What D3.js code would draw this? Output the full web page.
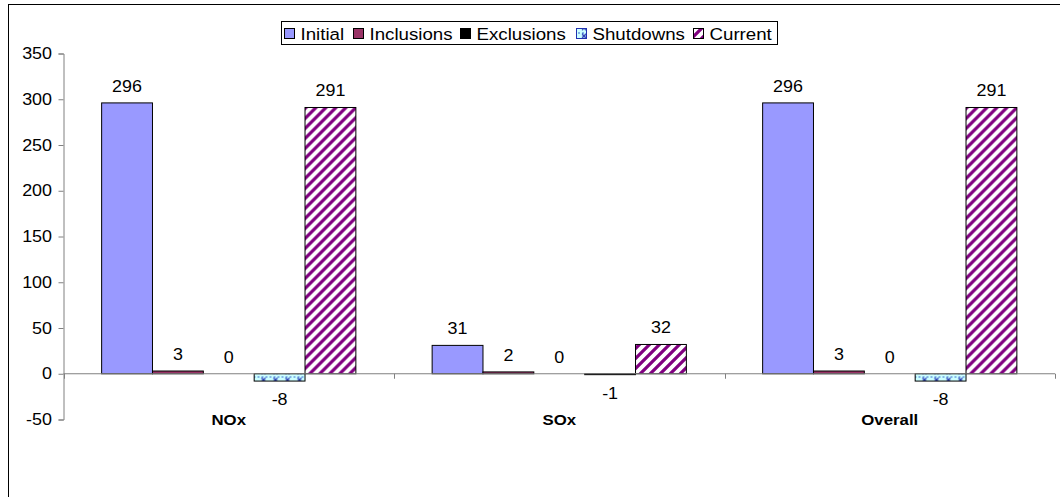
<!DOCTYPE html>
<html>
<head>
<meta charset="utf-8">
<script src="https://cdn.jsdelivr.net/npm/d3@7"></script>
<style>
  html, body { margin: 0; padding: 0; background: #fff; }
  svg { display: block; }
  text { font-family: "Liberation Sans", Arial, sans-serif; fill: #000; }
</style>
</head>
<body>
<svg id="chart" width="1060" height="497"></svg>
<script>
// Emission inventory changes by pollutant
const categories = ["NOx", "SOx", "Overall"];
const seriesNames = ["Initial", "Inclusions", "Exclusions", "Shutdowns", "Current"];
const initial    = [296, 31, 296];
const inclusions = [3, 2, 3];
const exclusions = [0, 0, 0];
const shutdowns  = [-8, -1, -8];
const current    = [291, 32, 291];
const yTicks = [-50, 0, 50, 100, 150, 200, 250, 300, 350];

const seriesValues = [initial, inclusions, exclusions, shutdowns, current];
const fills = ["#9999ff", "#993366", "#000000", "url(#pat-shut)", "url(#pat-cur)"];

const svg = d3.select("#chart");
const SX = 1.12; // horizontal glyph stretch

function label(g, x, y, s, anchor, size, bold, sx) {
  return g.append("text")
    .attr("transform", `translate(${x},${y}) scale(${sx || SX},1)`)
    .attr("text-anchor", anchor)
    .style("font-size", size + "px")
    .style("font-weight", bold ? "bold" : "normal")
    .text(s);
}

// patterns
const defs = svg.append("defs");
const ps = defs.append("pattern").attr("id", "pat-shut")
  .attr("patternUnits", "userSpaceOnUse").attr("width", 12).attr("height", 8)
  .attr("x", 2).attr("y", 0.5);
ps.append("rect").attr("width", 12).attr("height", 8).attr("fill", "#ccffff");
ps.append("path").attr("d", "M4,1.5 L8,5.5 M8,1.5 L4,5.5")
  .attr("stroke", "#2030b0").attr("stroke-width", 1.2).attr("fill", "none");
ps.append("path").attr("d", "M0,0.5 L12,0.5").attr("stroke", "#3b6fd0")
  .attr("stroke-width", 1).attr("stroke-dasharray", "2,2");

const pc = defs.append("pattern").attr("id", "pat-cur")
  .attr("patternUnits", "userSpaceOnUse").attr("width", 10).attr("height", 10);
pc.append("rect").attr("width", 10).attr("height", 10).attr("fill", "#fff");
pc.append("path").attr("d", "M-2.5,2.5 L2.5,-2.5 M0,10 L10,0 M7.5,12.5 L12.5,7.5")
  .attr("stroke", "#800080").attr("stroke-width", 3.2).attr("fill", "none");

// outer frame
svg.append("rect").attr("x", 8.5).attr("y", 4.5).attr("width", 1100).attr("height", 600)
  .attr("fill", "none").attr("stroke", "#000").attr("stroke-width", 1);

// scales
const y = d3.scaleLinear().domain([-50, 350]).range([419.5, 53.5]);
const x0 = d3.scaleBand().domain(categories).range([63.5, 1055]).paddingInner(0).paddingOuter(0);
const x1 = d3.scaleBand().domain(seriesNames).range([0, x0.bandwidth()])
  .paddingInner(0).paddingOuter(0.75);

const axisColor = "#808080";

// y axis
const yAxis = svg.append("g").attr("transform", "translate(63.5,0)")
  .call(d3.axisLeft(y).tickValues(yTicks).tickSize(5).tickPadding(6).tickFormat(d3.format("d")));
yAxis.select(".domain").attr("stroke", axisColor);
yAxis.selectAll(".tick line").attr("stroke", axisColor);
yAxis.selectAll(".tick text").remove();
yTicks.forEach(v => label(svg, 52, y(v) + 5.5, String(v), "end", 16, false));

// bars
const groups = svg.append("g").selectAll("g").data(categories).join("g")
  .attr("transform", d => `translate(${x0(d)},0)`);

seriesNames.forEach((name, si) => {
  groups.append("rect")
    .attr("x", x1(name))
    .attr("y", (d, ci) => Math.min(y(seriesValues[si][ci]), y(0)))
    .attr("width", x1.bandwidth())
    .attr("height", (d, ci) => Math.abs(y(seriesValues[si][ci]) - y(0)))
    .attr("fill", fills[si])
    .attr("stroke", "#000").attr("stroke-width", 1);
});

// x axis at zero
const xAxis = svg.append("g").attr("transform", `translate(0,${y(0)})`);
xAxis.append("line").attr("x1", 63.5).attr("x2", 1055)
  .attr("stroke", axisColor);
const bounds = categories.map(c => x0(c)).concat([x0(categories[categories.length - 1]) + x0.bandwidth()]);
xAxis.selectAll("line.tk").data(bounds).join("line").attr("class", "tk")
  .attr("x1", d => Math.round(d) + 0.5).attr("x2", d => Math.round(d) + 0.5)
  .attr("y1", 0).attr("y2", 5).attr("stroke", axisColor);

// value labels and category names
categories.forEach((c, ci) => {
  seriesNames.forEach((name, si) => {
    const v = seriesValues[si][ci];
    const cx = x0(c) + x1(name) + x1.bandwidth() / 2;
    const yy = v < 0 ? y(v) + 24 : y(v) - 11;
    label(svg, cx, yy, String(v), "middle", 16, false);
  });
  label(svg, x0(c) + x0.bandwidth() / 2, 425, c, "middle", 15, true);
});

// legend
const legendX = [284, 353, 460, 576, 693];
const lg = svg.append("g");
lg.append("rect").attr("x", 281.5).attr("y", 21.5).attr("width", 496).attr("height", 23)
  .attr("fill", "#fff").attr("stroke", "#000").attr("stroke-width", 1);
seriesNames.forEach((name, si) => {
  const lx = legendX[si];
  lg.append("rect").attr("x", lx + 0.5).attr("y", 28.5).attr("width", 10).attr("height", 10)
    .attr("fill", fills[si]).attr("stroke", si === 3 ? "#2030b0" : "#000").attr("stroke-width", 1);
  label(lg, lx + 16.5, 39.5, name, "start", 17, false, 1.1);
});
</script>
</body>
</html>
